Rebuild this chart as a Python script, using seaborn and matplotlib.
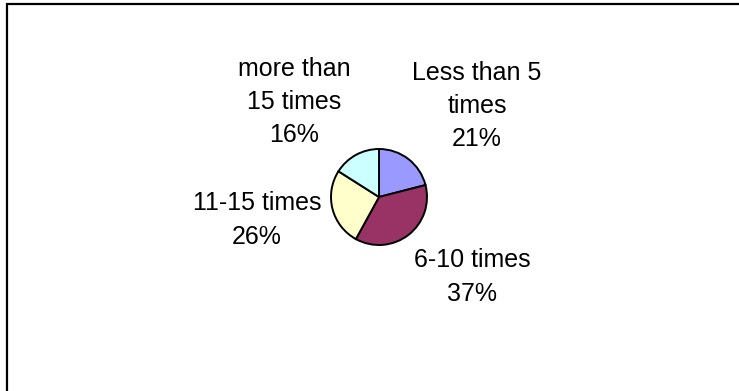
import matplotlib
matplotlib.use("Agg")
import matplotlib.pyplot as plt
import matplotlib.patches as mpatches
import seaborn as sns

categories = ["Less than 5\ntimes", "6-10 times", "11-15 times", "more than\n15 times"]
values = [21, 37, 26, 16]
colors = ["#9999FF", "#993366", "#FFFFCC", "#CCFFFF"]

sns.set_theme(style="white")
plt.rcParams['font.family'] = ['Liberation Sans', 'DejaVu Sans']

W, H = 739, 391
fig = plt.figure(figsize=(W / 100, H / 100), dpi=100)
ax = fig.add_axes([0, 0, 1, 1])

palette = sns.color_palette(colors)
cx, cy, r = 379, H - 197, 48
ax.pie(values, colors=palette, startangle=90, counterclock=False,
       center=(cx, cy), radius=r, frame=True,
       wedgeprops=dict(edgecolor="black", linewidth=1.4))
ax.set_xlim(0, W)
ax.set_ylim(0, H)
ax.set_aspect("equal")
ax.axis("off")

# label block centres (pixel, from top)
label_pos = [(477, 106), (472, 277), (257, 220), (294, 102)]
for cat, v, (lx, ly) in zip(categories, values, label_pos):
    ax.text(lx, H - ly, f"{cat}\n{v}%", ha="center", va="center",
            fontsize=18, linespacing=1.5, color="black")

border = mpatches.Rectangle((7, -20), W + 20, H - 4 + 20, fill=False,
                            edgecolor="black", linewidth=1.6, clip_on=False)
ax.add_patch(border)

fig.savefig("out.png", dpi=100)
